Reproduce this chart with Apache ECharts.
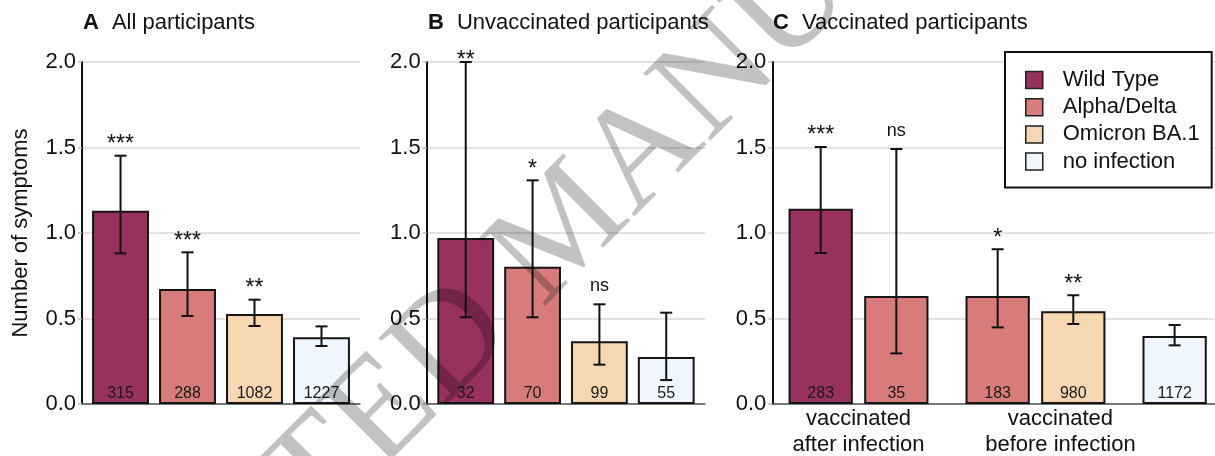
<!DOCTYPE html>
<html>
<head>
<meta charset="utf-8">
<script src="https://cdn.jsdelivr.net/npm/echarts@6/dist/echarts.min.js"></script>
<style>html,body{margin:0;padding:0;background:#fff;}#c{width:1215px;height:456px;}</style>
</head>
<body>
<div id="c"></div>
<script>
// ---------- data ----------
const variants = ['Wild Type', 'Alpha/Delta', 'Omicron BA.1', 'no infection'];
const variantColors = ['#983060', '#D87C7B', '#F6D7B2', '#EFF6FE'];
const yTicks = [0, 0.5, 1.0, 1.5, 2.0];

// A: All participants
const aTitle = ['A', 'All participants'];
const aVariant = [0, 1, 2, 3];
const aMean = [1.13, 0.672, 0.527, 0.39];
const aLow = [0.881, 0.515, 0.456, 0.339];
const aHigh = [1.452, 0.887, 0.61, 0.454];
const aN = [315, 288, 1082, 1227];
const aSig = ['***', '***', '**', ''];

// B: Unvaccinated participants
const bTitle = ['B', 'Unvaccinated participants'];
const bVariant = [0, 1, 2, 3];
const bMean = [0.971, 0.803, 0.367, 0.275];
const bLow = [0.507, 0.507, 0.23, 0.14];
const bHigh = [2.0, 1.308, 0.583, 0.534];
const bN = [32, 70, 99, 55];
const bSig = ['**', '*', 'ns', ''];

// C: Vaccinated participants
const cTitle = ['C', 'Vaccinated participants'];
const cVariant = [0, 1, 1, 2, 3];
const cGroup = [0, 0, 1, 1, 2];
const cGroupNames = ['vaccinated\nafter infection', 'vaccinated\nbefore infection'];
const cMean = [1.142, 0.632, 0.632, 0.542, 0.398];
const cLow = [0.883, 0.296, 0.448, 0.468, 0.343];
const cHigh = [1.503, 1.491, 0.905, 0.636, 0.462];
const cN = [283, 35, 183, 980, 1172];
const cSig = ['***', 'ns', '*', '**', ''];

const watermarkText = 'ACCEPTED MANUSCRIPT';

// ---------- layout ----------
const FONT = '"Liberation Sans", Arial, Helvetica, sans-serif';
const TOP = 62, BOTTOM_Y = 404;
const panels = [
  { title: aTitle, variant: aVariant, group: [0,0,0,0], mean: aMean, low: aLow, high: aHigh, n: aN, sig: aSig,
    left: 82, width: 278, xMin: -0.575, xMax: 3.575, yName: 'Number of symptoms', groupLabels: null },
  { title: bTitle, variant: bVariant, group: [0,0,0,0], mean: bMean, low: bLow, high: bHigh, n: bN, sig: bSig,
    left: 426.7, width: 278.3, xMin: -0.584, xMax: 3.58, yName: '', groupLabels: null },
  { title: cTitle, variant: cVariant, group: cGroup, mean: cMean, low: cLow, high: cHigh, n: cN, sig: cSig,
    left: 772.3, width: 442.4, xMin: -0.64, xMax: 5.21, yName: '', groupLabels: cGroupNames }
];
const GROUP_GAP = 0.34;
const BAR_FRAC = 0.85;
const groupLabelShift = [0, 0.33];

const grid = [], xAxis = [], yAxis = [], series = [], title = [];

panels.forEach((p, pi) => {
  grid.push({ left: p.left, top: TOP, width: p.width, height: BOTTOM_Y - TOP, containLabel: false });
  title.push({
    left: Math.round(p.left) + 1, top: 11, padding: 0,
    text: '{b|' + p.title[0] + '}{n|' + p.title[1] + '}',
    textStyle: { fontWeight: 'normal', rich: {
      b: { fontFamily: FONT, fontWeight: 'bold', fontSize: 22, color: '#111', lineHeight: 24 },
      n: { fontFamily: FONT, fontWeight: 'normal', fontSize: 22, color: '#111', padding: [0, 0, 0, 13], lineHeight: 24 }
    } }
  });
  xAxis.push({
    type: 'value', gridIndex: pi, min: p.xMin, max: p.xMax,
    axisLine: { show: true, onZero: false, lineStyle: { color: '#555', width: 1.5 } },
    axisTick: { show: false }, axisLabel: { show: false }, splitLine: { show: false }
  });
  yAxis.push({
    type: 'value', gridIndex: pi, min: yTicks[0], max: yTicks[yTicks.length - 1], interval: 0.5,
    name: p.yName, nameLocation: 'middle', nameRotate: 90, nameGap: 50,
    nameTextStyle: { fontFamily: FONT, fontSize: 22, color: '#111' },
    axisLine: { show: true, onZero: false, lineStyle: { color: '#111', width: 2 } },
    axisTick: { show: true, length: 4, lineStyle: { color: '#bbb', width: 1.5 } },
    axisLabel: { fontFamily: FONT, fontSize: 22, color: '#111', margin: 6, formatter: v => v.toFixed(1) },
    splitLine: { show: true, lineStyle: { color: '#d9d9d9', width: 1.5 } }
  });

  const xs = p.mean.map((_, i) => i + GROUP_GAP * p.group[i]);
  const barPx = p.width / (p.xMax - p.xMin) * BAR_FRAC;

  variants.forEach((vName, vi) => {
    const data = [];
    p.mean.forEach((m, i) => { if (p.variant[i] === vi) data.push([xs[i], m, p.n[i]]); });
    if (!data.length) return;
    series.push({
      type: 'bar', name: vName, xAxisIndex: pi, yAxisIndex: pi,
      barWidth: barPx, barGap: '-100%', data: data,
      itemStyle: { color: variantColors[vi], borderColor: '#151515', borderWidth: 2 },
      label: { show: true, position: 'insideBottom', distance: 2, formatter: q => String(q.value[2]),
               fontFamily: FONT, fontSize: 16, lineHeight: 16, color: '#1a1a1a' },
      emphasis: { disabled: true }, animation: false
    });
  });

  // error bars + significance
  const sig = p.sig;
  series.push({
    type: 'custom', xAxisIndex: pi, yAxisIndex: pi, silent: true, animation: false, z: 5,
    data: xs.map((x, i) => [x, p.low[i], p.high[i]]),
    renderItem: (params, api) => {
      const x = api.value(0), lo = api.value(1), hi = api.value(2);
      const t = api.coord([x, hi]), b = api.coord([x, lo]);
      const yMaxPx = api.coord([x, yTicks[yTicks.length - 1]])[1];
      const cap = 6;
      const ls = { stroke: '#111', lineWidth: 2 };
      const children = [
        { type: 'line', shape: { x1: t[0], y1: t[1], x2: b[0], y2: b[1] }, style: ls },
        { type: 'line', shape: { x1: t[0] - cap, y1: t[1], x2: t[0] + cap, y2: t[1] }, style: ls },
        { type: 'line', shape: { x1: b[0] - cap, y1: b[1], x2: b[0] + cap, y2: b[1] }, style: ls }
      ];
      const s = sig[params.dataIndex];
      if (s) {
        const star = s.indexOf('*') >= 0;
        let cy;
        if (star) {
          const glyphBottom = Math.max(t[1] - 13, yMaxPx - 3.7);
          cy = glyphBottom + 2;
        } else {
          cy = t[1] - 11.6 - 6.2;
        }
        children.push({ type: 'text', x: t[0], y: cy, style: {
          text: s, align: 'center', verticalAlign: 'middle',
          fontFamily: FONT, fontSize: star ? 23 : 18, lineHeight: star ? 23 : 18, fill: '#111'
        } });
      }
      return { type: 'group', children: children };
    }
  });

  if (p.groupLabels) {
    const gl = p.groupLabels.map((name, g) => {
      const gx = xs.filter((_, i) => p.group[i] === g);
      return [(Math.min(...gx) + Math.max(...gx)) / 2 + groupLabelShift[g], 0];
    });
    const names = p.groupLabels;
    series.push({
      type: 'custom', xAxisIndex: pi, yAxisIndex: pi, silent: true, animation: false, clip: false,
      data: gl,
      renderItem: (params, api) => {
        const c = api.coord([api.value(0), api.value(1)]);
        return { type: 'text', x: c[0], y: c[1] + 2, style: {
          text: names[params.dataIndex], align: 'center', verticalAlign: 'top',
          fontFamily: FONT, fontSize: 22, lineHeight: 26, fill: '#111'
        } };
      }
    });
  }
});

const chart = echarts.init(document.getElementById('c'), null, { renderer: 'canvas' });
chart.setOption({
  backgroundColor: '#ffffff',
  animation: false,
  textStyle: { fontFamily: FONT },
  title: title,
  grid: grid, xAxis: xAxis, yAxis: yAxis, series: series,
  legend: {
    data: variants, orient: 'vertical', left: 1005, top: 52,
    padding: [17, 12, 15, 20], itemWidth: 17, itemHeight: 17, itemGap: 5.2,
    backgroundColor: '#fff', borderColor: '#111', borderWidth: 2, borderRadius: 0,
    selectedMode: false, icon: 'rect',
    itemStyle: { borderColor: '#222', borderWidth: 1.5 },
    textStyle: { fontFamily: FONT, fontSize: 22, lineHeight: 22, color: '#111', padding: [0, 0, 0, 15] }
  },
  graphic: [{
    type: 'text', x: 568, y: 229, rotation: Math.PI / 4, z: 100, silent: true,
    style: { text: watermarkText, fontFamily: '"Liberation Serif", "Times New Roman", serif',
             fontSize: 145, fill: 'rgba(0,0,0,0.24)', align: 'center', verticalAlign: 'middle' }
  }]
});
</script>
</body>
</html>
